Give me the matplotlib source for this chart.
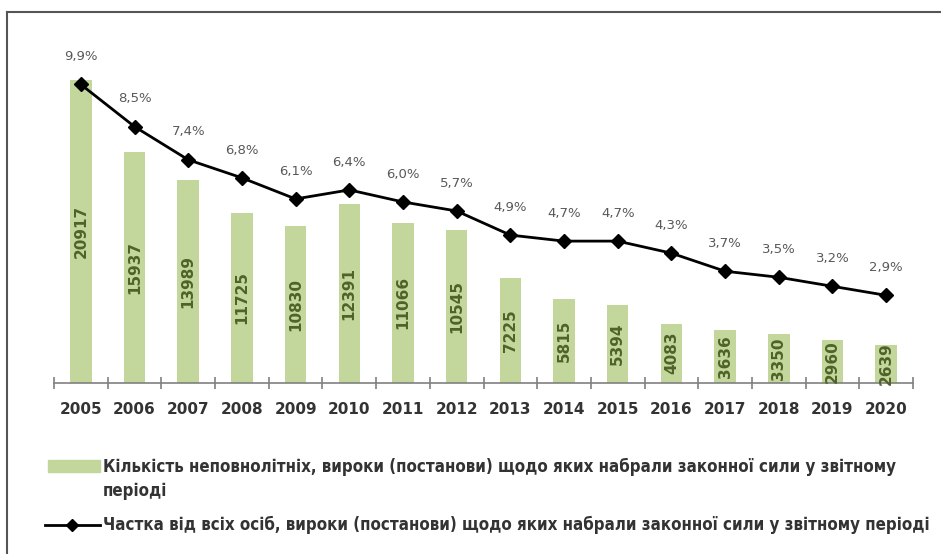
import matplotlib.pyplot as plt
from matplotlib.lines import Line2D
from matplotlib.patches import Rectangle
from matplotlib import font_manager
from matplotlib.font_manager import FontProperties

# ----------------- DATA -----------------
years = ["2005", "2006", "2007", "2008", "2009", "2010", "2011", "2012",
         "2013", "2014", "2015", "2016", "2017", "2018", "2019", "2020"]
counts = [20917, 15937, 13989, 11725, 10830, 12391, 11066, 10545,
          7225, 5815, 5394, 4083, 3636, 3350, 2960, 2639]
share = [9.9, 8.5, 7.4, 6.8, 6.1, 6.4, 6.0, 5.7,
         4.9, 4.7, 4.7, 4.3, 3.7, 3.5, 3.2, 2.9]

bar_label = "Кількість неповнолітніх, вироки (постанови) щодо яких набрали законної сили у звітному\nперіоді"
line_label = "Частка від всіх осіб, вироки (постанови) щодо яких набрали законної сили у звітному періоді"

# look for a narrow bold face for the legend (the original uses a condensed font)
narrow = None
for f in font_manager.fontManager.ttflist:
    nm = f.name + " " + str(f.fname)
    if ("Condensed" in nm or "Narrow" in nm) and f.weight in (600, 700, "bold") and "Oblique" not in nm and "Italic" not in nm:
        narrow = f.fname
        if "DejaVu" in nm:
            break
legend_fp = FontProperties(fname=narrow) if narrow else FontProperties(family="DejaVu Sans", weight="bold")

bar_color = "#c3d69b"
label_green = "#4f6228"
text_gray = "#333333"

fig = plt.figure(figsize=(9.41, 5.54), dpi=100)
ax = fig.add_axes([54/941, 171.3/554, 859/941, 361.5/554])
ax2 = ax.twinx()

x = list(range(len(years)))
ax.bar(x, counts, width=0.4, color=bar_color, zorder=2)
for xi, c in zip(x, counts):
    ax.text(xi, c / 2, str(c), rotation=90, ha="center", va="center",
            fontsize=11, fontweight="bold", color=label_green, zorder=3)

ax.set_xlim(-0.5, len(years) - 0.5)
ax.set_ylim(0, 25000)
ax2.set_ylim(0, 12)

ax2.plot(x, share, color="black", lw=2, marker="D", markersize=7, zorder=4)
for xi, s in zip(x, share):
    ax2.annotate(f"{s:.1f}".replace(".", ",") + "%", (xi, s), xytext=(0, 20),
                 textcoords="offset points", ha="center", va="center",
                 fontsize=9.5, color="#595959")

# axes styling
for a in (ax, ax2):
    for sp in ("top", "right", "left"):
        a.spines[sp].set_visible(False)
    a.set_yticks([])
ax2.spines["bottom"].set_visible(False)
ax.spines["bottom"].set_color("#808080")
ax.spines["bottom"].set_linewidth(1.2)

ax.set_xticks(x)
ax.set_xticklabels(years, fontsize=11, fontweight="bold", color=text_gray)
ax.tick_params(axis="x", which="major", length=0, pad=14)
ax.set_xticks([i - 0.5 for i in range(len(years) + 1)], minor=True)
ax.tick_params(axis="x", which="minor", direction="inout", length=9,
               width=1.2, color="#808080")

# legend drawn by hand
fig.patches.append(Rectangle((48/941, 1 - 472/554), 52/941, 12/554,
                             transform=fig.transFigure, color=bar_color))
t1 = fig.text(103/941, 1 - 466/554, bar_label, ha="left", va="top",
              fontproperties=legend_fp, color=text_gray, linespacing=1.45)
fig.lines.append(Line2D([45/941, 72/941, 100/941], [1 - 525/554] * 3,
                        transform=fig.transFigure, color="black", lw=2,
                        marker="D", markersize=6, markevery=[1]))
t2 = fig.text(103/941, 1 - 525/554, line_label, ha="left", va="center",
              fontproperties=legend_fp, color=text_gray)

# fit the legend text to the width it has in the original
renderer = fig.canvas.get_renderer()
size = 12.0
for t in (t1, t2):
    t.set_fontsize(size)
w = t2.get_window_extent(renderer).width
size = size * 832 / w
for t in (t1, t2):
    t.set_fontsize(size)
t1.set_y(1 - (466 - size * 0.7) / 554)

# outer frame
fig.lines.append(Line2D([7/941, 1], [1 - 12/554, 1 - 12/554],
                        transform=fig.transFigure, color="#555555", lw=1.5))
fig.lines.append(Line2D([7/941, 7/941], [0, 1 - 12/554],
                        transform=fig.transFigure, color="#555555", lw=1.5))

fig.savefig("out.png", dpi=100)
